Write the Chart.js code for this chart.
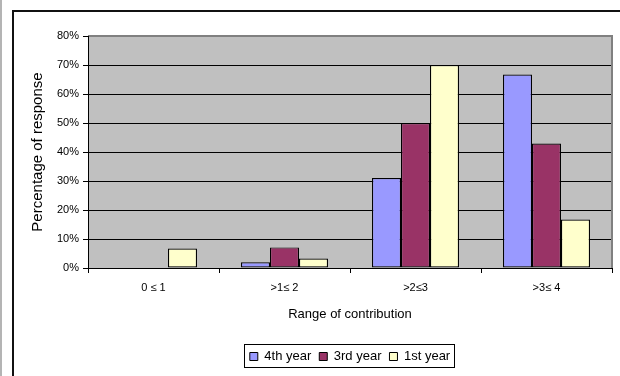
<!DOCTYPE html>
<html>
<head>
<meta charset="utf-8">
<script src="https://cdn.jsdelivr.net/npm/chart.js@4.4.1/dist/chart.umd.min.js"></script>
<style>
  html, body { margin: 0; padding: 0; background: #ffffff; }
  #wrap { position: relative; width: 620px; height: 376px; overflow: hidden; }
  #edge { position: absolute; left: 0; top: 0; width: 2px; height: 376px; background: #b4b4b4; }
  #frame { position: absolute; left: 12px; top: 10px; width: 700px; height: 500px;
           border-left: 2px solid #111; border-top: 2px solid #111; pointer-events: none; }
  canvas { position: absolute; left: 0; top: 0; }
</style>
</head>
<body>
<div id="wrap">
  <canvas id="chart" width="620" height="376"></canvas>
  <div id="edge"></div>
  <div id="frame"></div>
</div>
<script>
// Contribution ranges on the x axis
const categories = ['0 \u2264 1', '>1\u2264 2', '>2\u22643', '>3\u2264 4'];

// Share of responses (%) per year group
const year4 = [0, 2.0, 31.0, 66.7];
const year3 = [0, 7.1, 50.0, 42.9];
const year1 = [6.7, 3.3, 70.0, 16.7];

const seriesNames = ['4th year', '3rd year', '1st year'];
const yTickMax = 80;
const yTickStep = 10;

const FONT = "'Liberation Sans', Arial, sans-serif";

// Grey plot background and frame around the plotting area
const plotArea = {
  id: 'plotArea',
  beforeDatasetsDraw(chart) {
    const { ctx, chartArea: a } = chart;
    ctx.save();
    ctx.fillStyle = '#c0c0c0';
    ctx.fillRect(a.left, a.top, a.right - a.left, a.bottom - a.top);
    // horizontal grid lines
    const y = chart.scales.y;
    ctx.strokeStyle = '#000';
    ctx.lineWidth = 1;
    for (let v = yTickStep; v < yTickMax; v += yTickStep) {
      const py = Math.round(y.getPixelForValue(v)) + 0.5;
      ctx.beginPath();
      ctx.moveTo(a.left, py);
      ctx.lineTo(a.right, py);
      ctx.stroke();
    }
    ctx.restore();
  },
  afterDatasetsDraw(chart) {
    const { ctx, chartArea: a } = chart;
    ctx.save();
    ctx.strokeStyle = '#808080';
    ctx.lineWidth = 2;
    ctx.beginPath();
    ctx.moveTo(a.left, a.top);
    ctx.lineTo(a.right, a.top);
    ctx.lineTo(a.right, a.bottom);
    ctx.stroke();
    ctx.strokeStyle = '#000';
    ctx.lineWidth = 1;
    ctx.beginPath();
    ctx.moveTo(Math.round(a.left) + 0.5, a.top);
    ctx.lineTo(Math.round(a.left) + 0.5, Math.round(a.bottom) + 0.5);
    ctx.lineTo(a.right, Math.round(a.bottom) + 0.5);
    ctx.stroke();
    ctx.restore();
  }
};

// Centre the legend under the plotting area rather than the whole canvas
const legendShift = {
  id: 'legendShift',
  afterLayout(chart) {
    const lg = chart.legend;
    if (!lg) return;
    const a = chart.chartArea;
    const dx = (a.left + a.right) / 2 - (lg.left + lg.right) / 2;
    lg.left += dx;
    lg.right += dx;
  }
};

// Box around the legend entries
const legendFrame = {
  id: 'legendFrame',
  afterDraw(chart) {
    const boxes = chart.legend && chart.legend.legendHitBoxes;
    if (!boxes || !boxes.length) return;
    const first = boxes[0], last = boxes[boxes.length - 1];
    const left = Math.round(first.left) - 5.5;
    const right = Math.round(last.left + last.width) + 4.5;
    const top = Math.round(first.top) - 5.5;
    const bottom = Math.round(first.top + first.height) + 4.5;
    const ctx = chart.ctx;
    ctx.save();
    ctx.strokeStyle = '#000';
    ctx.lineWidth = 1;
    ctx.strokeRect(left, top, right - left, bottom - top);
    ctx.restore();
  }
};

new Chart(document.getElementById('chart'), {
  type: 'bar',
  data: {
    labels: categories,
    datasets: [
      { label: seriesNames[0], data: year4, backgroundColor: '#9999ff' },
      { label: seriesNames[1], data: year3, backgroundColor: '#993366' },
      { label: seriesNames[2], data: year1, backgroundColor: '#ffffcc' }
    ].map(d => Object.assign(d, { borderColor: '#000', borderWidth: 1.2, borderSkipped: false }))
  },
  options: {
    responsive: false,
    animation: false,
    layout: { padding: { left: 20, right: 8, top: 36, bottom: 3 } },
    datasets: { bar: { categoryPercentage: 0.664, barPercentage: 1.0 } },
    plugins: {
      tooltip: { enabled: false },
      legend: {
        position: 'bottom',
        labels: {
          font: { family: FONT, size: 13 },
          color: '#000',
          boxWidth: 8,
          boxHeight: 8,
          padding: 8,
          generateLabels(chart) {
            return chart.data.datasets.map((ds, i) => ({
              text: ds.label,
              fillStyle: ds.backgroundColor,
              strokeStyle: '#000',
              lineWidth: 1,
              datasetIndex: i,
              fontColor: '#000'
            }));
          }
        }
      }
    },
    scales: {
      x: {
        grid: { display: true, drawOnChartArea: false, drawTicks: true, offset: true, tickLength: 5, color: '#000' },
        border: { display: false },
        ticks: { font: { family: FONT, size: 11 }, color: '#000', padding: 8, maxRotation: 0 },
        title: { display: true, text: 'Range of contribution', font: { family: FONT, size: 13 }, color: '#000', padding: { top: 4, bottom: 20 } },
        afterFit(scale) { scale.height = 74; }
      },
      y: {
        min: 0,
        max: yTickMax,
        grid: { display: true, drawOnChartArea: false, drawTicks: true, tickLength: 5, color: '#000' },
        border: { display: false },
        ticks: {
          stepSize: yTickStep,
          font: { family: FONT, size: 11 },
          color: '#000',
          padding: 4,
          callback: v => v + '%'
        },
        title: { display: true, text: 'Percentage of response', font: { family: FONT, size: 15 }, color: '#000', padding: { top: 9, bottom: 0 } },
        afterFit(scale) { scale.width = 68; }
      }
    }
  },
  plugins: [plotArea, legendShift, legendFrame]
});
</script>
</body>
</html>
